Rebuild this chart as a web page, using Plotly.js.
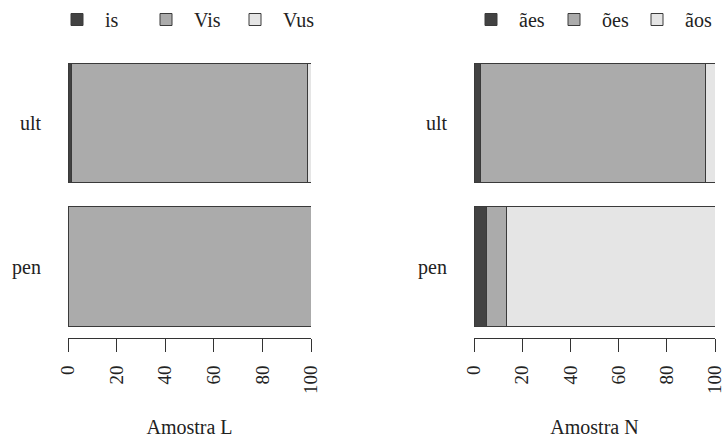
<!DOCTYPE html>
<html>
<head>
<meta charset="utf-8">
<script src="https://cdn.plot.ly/plotly-3.0.1.min.js"></script>
<style>html,body{margin:0;padding:0;background:#fff;overflow:hidden}#chart{width:725px;height:438px}</style>
</head>
<body>
<div id="chart"></div>
<script>
// Categories (bottom to top order given by categoryOrder)
const categories = ['ult', 'pen'];
const categoryOrder = ['pen', 'ult'];

// Panel L: Amostra L (percent)
const seriesL = ['is', 'Vis', 'Vus'];
const isVals  = [1.5, 0];
const VisVals = [97, 100];
const VusVals = [1.5, 0];

// Panel N: Amostra N (percent)
const seriesN = ['ães', 'ões', 'ãos'];
const aesVals = [2.5, 5];
const oesVals = [93.5, 8.5];
const aosVals = [4, 86.5];

const xTicks = [0, 20, 40, 60, 80, 100];
const titleL = 'Amostra L';
const titleN = 'Amostra N';

const fills = ['#424242', '#ababab', '#e5e5e5'];
const edge = {color: '#3a3a3a', width: 1};
const FONT = 'Liberation Serif';

function mk(name, vals, i, xa, ya, lg) {
  return {
    type: 'bar', orientation: 'h', name: name,
    x: vals, y: categories, xaxis: xa, yaxis: ya, legend: lg,
    marker: {color: fills[i], line: edge},
    width: 1 / 1.2, hoverinfo: 'x+name'
  };
}

const data = [
  mk(seriesL[0], isVals, 0, 'x', 'y', 'legend'),
  mk(seriesL[1], VisVals, 1, 'x', 'y', 'legend'),
  mk(seriesL[2], VusVals, 2, 'x', 'y', 'legend'),
  mk(seriesN[0], aesVals, 0, 'x2', 'y2', 'legend2'),
  mk(seriesN[1], oesVals, 1, 'x2', 'y2', 'legend2'),
  mk(seriesN[2], aosVals, 2, 'x2', 'y2', 'legend2')
];

function xax(dom, title) {
  return {
    domain: dom, range: [0, 100], tickvals: xTicks, ticktext: xTicks.map(String),
    tickangle: -90, ticks: 'outside', ticklen: 13, tickwidth: 1, tickcolor: '#333',
    showline: true, linecolor: '#333', linewidth: 1, showgrid: false, zeroline: false,
    ticklabelstandoff: 6, automargin: false, ticklabeloverflow: 'allow',
    tickfont: {family: FONT, size: 19, color: '#222'},
    title: {text: title, font: {family: FONT, size: 20, color: '#222'}, standoff: 32}
  };
}
function yax(anchor) {
  return {
    anchor: anchor, domain: [1 - 338 / 438, 1 - 50 / 438],
    type: 'category', categoryorder: 'array', categoryarray: categoryOrder,
    range: [-0.496, 1.508], ticks: '', showline: false, showgrid: false, zeroline: false,
    ticklabelstandoff: 26, automargin: false,
    tickfont: {family: FONT, size: 20, color: '#222'}
  };
}

const legendBase = {
  orientation: 'h', yanchor: 'top', y: 1,
  font: {family: FONT, size: 20, color: '#222'}, bgcolor: 'rgba(0,0,0,0)',
  traceorder: 'normal', itemclick: false, itemdoubleclick: false, itemwidth: 46
};

const layout = {
  width: 725, height: 438,
  margin: {l: 0, r: 0, t: 0, b: 0},
  paper_bgcolor: '#fff', plot_bgcolor: '#fff',
  barmode: 'stack', bargap: 0,
  showlegend: true,
  font: {family: FONT, size: 20, color: '#222'},
  xaxis: xax([68 / 725, 311 / 725], titleL),
  yaxis: yax('x'),
  xaxis2: xax([474 / 725, 715 / 725], titleN),
  yaxis2: yax('x2'),
  legend: Object.assign({}, legendBase, {x: 49 / 725, xanchor: 'left', entrywidth: 28}),
  legend2: Object.assign({}, legendBase, {x: 712 / 725, xanchor: 'right', entrywidth: 22})
};

Plotly.newPlot('chart', data, layout, {displayModeBar: false, staticPlot: true});
</script>
</body>
</html>
